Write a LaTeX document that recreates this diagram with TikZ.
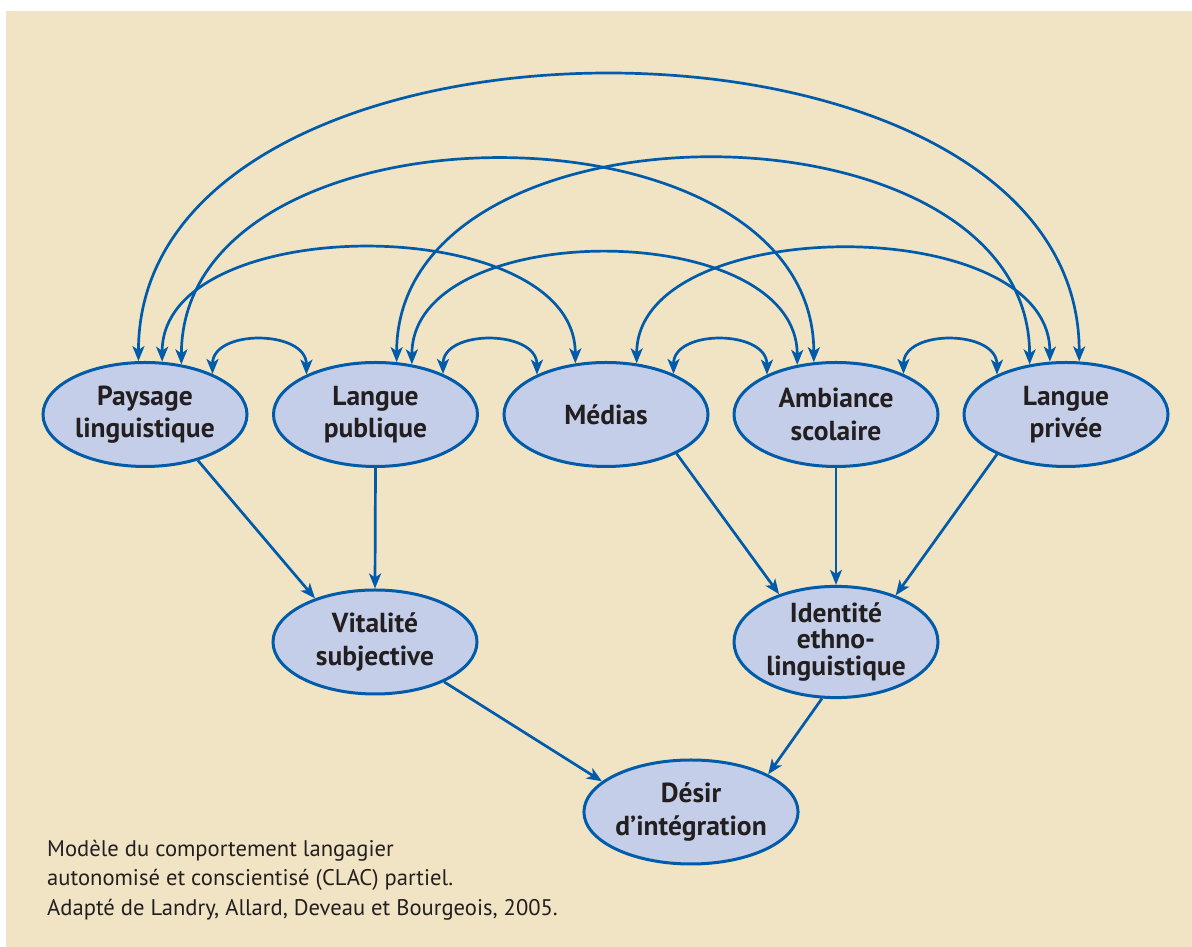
\documentclass[tikz,border=0pt]{standalone}
\usepackage{fontspec}
\setmainfont{PT Sans}
\usetikzlibrary{shapes.geometric,arrows.meta}
\definecolor{bg}{HTML}{F1E4C4}
\definecolor{fillb}{HTML}{C5CEE8}
\definecolor{lineb}{HTML}{005BAA}
\definecolor{txt}{HTML}{231F20}
\begin{document}
\begin{tikzpicture}[x=1pt,y=1pt,
  box/.style={ellipse, draw=lineb, fill=fillb, line width=3pt, minimum width=204pt, minimum height=104pt, inner sep=0pt, align=center, text=txt, font=\bfseries\fontsize{27.5}{32.5}\selectfont},
  arr/.style={draw=lineb, line width=2.7pt, -{Stealth[length=15pt,width=12pt,inset=4pt]}},
  darr/.style={draw=lineb, line width=2.7pt, {Stealth[length=15pt,width=12pt,inset=4pt]}-{Stealth[length=15pt,width=12pt,inset=4pt]}},
  captext/.style={anchor=base west, inner sep=0pt, text=txt, font=\fontsize{22.6}{29.5}\selectfont}]
\useasboundingbox (0,0) rectangle (1192,947);
\fill[bg] (6,0) rectangle (1192,936);
% nodes
\node[box] (PL) at (145,532.5) {Paysage\\linguistique};
\node[box] (LP) at (375.5,532.5) {Langue\\publique};
\node[box] (ME) at (606,532.5) {Médias};
\node[box] (AS) at (836,532.5) {Ambiance\\scolaire};
\node[box] (LV) at (1066,532.5) {Langue\\privée};
\node[box] (VS) at (375,305) {Vitalité\\subjective};
\node[box, font=\bfseries\fontsize{27.5}{26.5}\selectfont] (ID) at (836,305) {Identité\\ethno-\\linguistique};
\node[box] (DI) at (691,135) {Désir\\d’intégration};
% big arcs
\draw[darr] (PL.97) .. controls +(0,381) and +(0,381) .. (LV.76);
\draw[darr] (PL.54) .. controls +(0,271) and +(0,271) .. (AS.113);
\draw[darr] (LP.68) .. controls +(0,272) and +(0,272) .. (LV.126);
\draw[darr] (PL.72) .. controls +(0,152) and +(0,152) .. (ME.121);
\draw[darr] (LP.54) .. controls +(0,148) and +(0,148) .. (AS.128);
\draw[darr] (ME.59) .. controls +(0,151) and +(0,151) .. (LV.107);
% small arcs
\draw[darr] (PL.31) .. controls +(0,45) and +(0,45) .. (LP.150);
\draw[darr] (LP.31) .. controls +(0,45) and +(0,45) .. (ME.150);
\draw[darr] (ME.31) .. controls +(0,45) and +(0,45) .. (AS.150);
\draw[darr] (AS.31) .. controls +(0,45) and +(0,45) .. (LV.150);
% straight arrows
\draw[arr] (PL.-41) -- (VS.144);
\draw[arr] (LP.south) -- (VS.north);
\draw[arr] (ME.-29) -- (ID.140);
\draw[arr] (AS.south) -- (ID.north);
\draw[arr] (LV.210) -- (ID.38);
\draw[arr] (VS.-30) -- (DI.161);
\draw[arr] (ID.256) -- (DI.26);
% caption
\node[captext] (c1) at (47,90) {Modèle du comportement langagier};
\node[captext] (c2) at (47,61) {autonomisé et conscientisé (CLAC) partiel.};
\node[captext] (c3) at (47,31) {Adapté de Landry, Allard, Deveau et Bourgeois, 2005.};
\end{tikzpicture}
\end{document}
